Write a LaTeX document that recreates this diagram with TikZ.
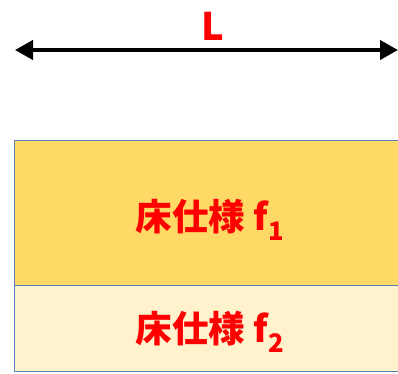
\documentclass[tikz,border=0pt]{standalone}
\usepackage{fontspec}
\setmainfont{Noto Sans CJK JP}
\usetikzlibrary{arrows.meta}

\definecolor{floorA}{HTML}{FFD966}
\definecolor{floorB}{HTML}{FFF2CC}
\definecolor{edgeblue}{HTML}{5B80B8}
\definecolor{labelred}{HTML}{FF0000}

\begin{document}
\begin{tikzpicture}[x=1pt, y=-1pt,
    layer/.style={draw=edgeblue, line width=1.2pt, anchor=north west, inner sep=0pt, minimum width=420pt},
    spec/.style={text=labelred, font=\bfseries\fontsize{36.5}{36.5}\selectfont}]

    \useasboundingbox (0,0) rectangle (398,373);

                % floor layers, running off the right edge
                \node[layer, fill=floorA, minimum height=145pt] at (14,139.5) (top) {};
                \node[layer, fill=floorB, minimum height=86.5pt] at (14,284.5) (bottom) {};

                \node[spec] at (210,220) (f1) {床仕様 f\textsubscript{1}};
                \node[spec] at (210,332) (f2) {床仕様 f\textsubscript{2}};

                % span L
                \coordinate (west) at (15,50);
                \coordinate (east) at (398,50);
                \draw[line width=4pt, {Triangle[length=18pt, width=19pt]}-{Triangle[length=18pt, width=19pt]}] (west) -- (east);
                \node[text=labelred, font=\bfseries\fontsize{38}{38}\selectfont] at (213,26) (span) {L};
            \end{tikzpicture}
\end{document}
